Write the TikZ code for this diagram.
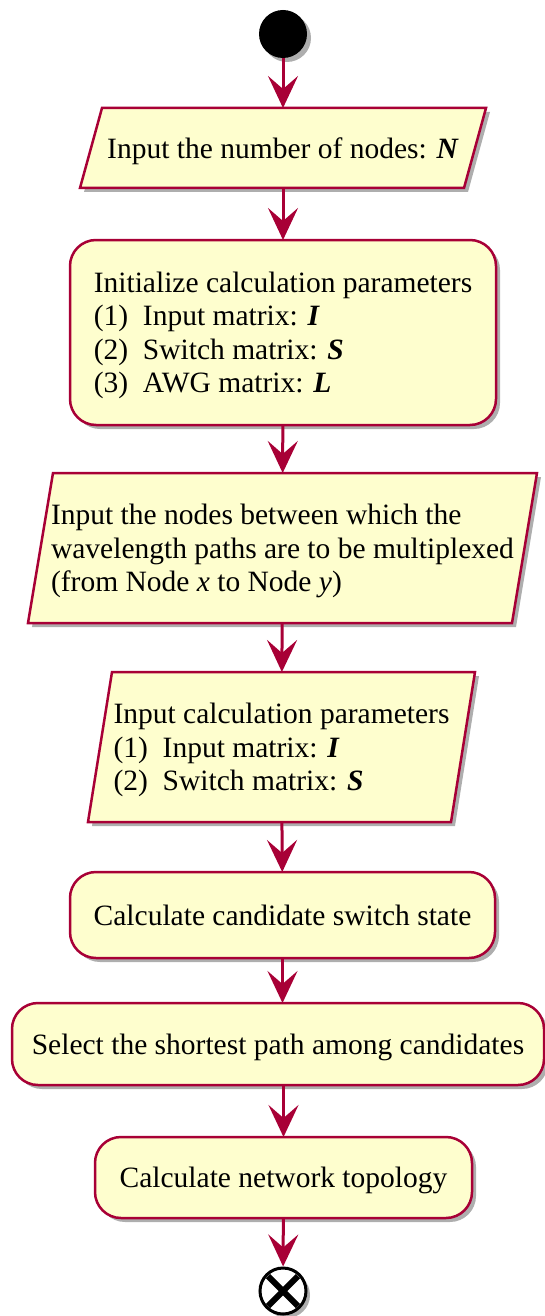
\documentclass[tikz,border=0pt]{standalone}
\usepackage{fontspec}
\setmainfont{Liberation Serif}
\usetikzlibrary{calc,arrows.meta,shadows,backgrounds}

\definecolor{umlred}{HTML}{A80036}
\definecolor{umlfill}{HTML}{FEFECE}

\tikzset{
	umlshadow/.style={drop shadow={shadow xshift=4pt,shadow yshift=-4pt,opacity=0.45,fill=black!70}},
	umltext/.style={align=left,inner sep=0pt,outer sep=0pt,text depth=0pt,font=\fontsize{29.5}{33.5}\selectfont},
	actbox/.style={umltext,draw=umlred,fill=umlfill,line width=2.5pt,rounded corners=26pt,umlshadow},
	iobox/.style={umltext},
	ioshape/.style={draw=umlred,fill=umlfill,line width=2.5pt,line join=miter,umlshadow},
	flow/.style={draw=umlred,line width=3pt,-{Stealth[length=32pt,width=30pt,inset=13pt]}},
}

\begin{document}
\begin{tikzpicture}[x=1pt,y=1pt]
			\useasboundingbox (0,0) rectangle (545,-1316);

			\node[circle,fill=black,minimum size=48pt,inner sep=0pt,umlshadow] (start) at (283,-34) {};

			\node[iobox,minimum width=406pt,minimum height=80pt] (inN) at (283,-148) {Input the number of nodes: \textbf{\textit{N}}};

			\node[actbox,minimum width=426pt,minimum height=185pt] (initpar) at (283,-332.5) {Initialize calculation parameters\\(1)\enspace Input matrix: \textbf{\textit{I}}\\(2)\enspace Switch matrix: \textbf{\textit{S}}\\(3)\enspace AWG matrix: \textbf{\textit{L}}};

			\node[iobox,minimum width=509pt,minimum height=150pt] (inxy) at (282.5,-548) {Input the nodes between which the\\wavelength paths are to be multiplexed\\(from Node \textit{x} to Node \textit{y})};

			\node[iobox,minimum width=387pt,minimum height=150pt] (inpar) at (281.5,-747) {Input calculation parameters\\(1)\enspace Input matrix: \textbf{\textit{I}}\\(2)\enspace Switch matrix: \textbf{\textit{S}}};

			\node[actbox,minimum width=425pt,minimum height=86pt] (calcsw) at (282.5,-915) {Calculate candidate switch state};
			\node[actbox,minimum width=532pt,minimum height=82pt] (selpath) at (278,-1044) {Select the shortest path among candidates};
			\node[actbox,minimum width=377pt,minimum height=81pt] (calctopo) at (283.5,-1177.5) {Calculate network topology};

			\node[circle,draw=black,fill=white,line width=3pt,minimum size=46pt,inner sep=0pt,umlshadow] (stop) at (283,-1291) {};
			\draw[line width=6pt] ($(stop.center)+(-15,15)$) -- ($(stop.center)+(15,-15)$);
			\draw[line width=6pt] ($(stop.center)+(-15,-15)$) -- ($(stop.center)+(15,15)$);

			% input parallelograms behind the text
			\begin{scope}[on background layer]
				\filldraw[ioshape] ($(inN.north west)+(22,0)$) -- (inN.north east) -- ($(inN.south east)+(-22,0)$) -- (inN.south west) -- cycle;
				\filldraw[ioshape] ($(inxy.north west)+(25,0)$) -- (inxy.north east) -- ($(inxy.south east)+(-25,0)$) -- (inxy.south west) -- cycle;
				\filldraw[ioshape] ($(inpar.north west)+(24,0)$) -- (inpar.north east) -- ($(inpar.south east)+(-24,0)$) -- (inpar.south west) -- cycle;
			\end{scope}

			\draw[flow] (start) -- (inN);
			\draw[flow] (inN) -- (initpar);
			\draw[flow] (initpar) -- (inxy);
			\draw[flow] (inxy) -- (inpar);
			\draw[flow] (inpar) -- (calcsw);
			\draw[flow] (calcsw) -- (selpath.north -| calcsw.south);
			\draw[flow] (selpath.south -| calctopo.north) -- (calctopo);
			\draw[flow] (calctopo) -- (stop);

		\end{tikzpicture}
\end{document}
